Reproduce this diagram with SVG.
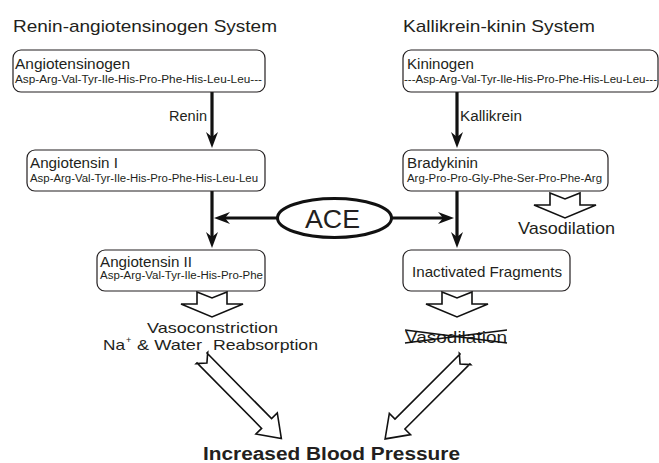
<svg xmlns="http://www.w3.org/2000/svg" width="659" height="463" viewBox="0 0 659 463">
<style>
text{font-family:"Liberation Sans",Arial,Helvetica,sans-serif;fill:#231f20}
.box{fill:#fff;stroke:#231f20;stroke-width:1.2}
.t{font-size:14px}
.s{font-size:10px}
.h{font-size:17px}
.big{font-size:17px}
.mid{font-size:15px}
.con{stroke:#111;stroke-width:3.2;fill:none}
.hol{fill:#fff;stroke:#111;stroke-width:1.6;stroke-linejoin:miter}
</style>
<defs>
<marker id="ah" viewBox="0 0 16 12" refX="8" refY="6" markerWidth="16" markerHeight="12" markerUnits="userSpaceOnUse" orient="auto">
<path d="M0,0 L16,6 L0,12 L5,6 z" fill="#111"/>
</marker>
<path id="down" d="M-15,0 L0,6 L15,0 L15,12 L31,12 L0,25 L-31,12 L-15,12 z"/>
<path id="diag" d="M0,-8 L7,0 L0,8 L0,7 L92,7 L92,15 L113,0 L92,-15 L92,-7 L0,-7 z"/>
</defs>

<text class="h" x="13" y="32" textLength="264" lengthAdjust="spacingAndGlyphs">Renin-angiotensinogen System</text>
<text class="h" x="403" y="32" textLength="192" lengthAdjust="spacingAndGlyphs">Kallikrein-kinin System</text>

<g id="connectors">
<line class="con" x1="212" y1="92" x2="212" y2="140" marker-end="url(#ah)"/>
<line class="con" x1="212" y1="191" x2="212" y2="240" marker-end="url(#ah)"/>
<line class="con" x1="457" y1="92" x2="457" y2="140" marker-end="url(#ah)"/>
<line class="con" x1="457" y1="191" x2="457" y2="240" marker-end="url(#ah)"/>
<line class="con" x1="278" y1="218" x2="222" y2="218" marker-end="url(#ah)"/>
<line class="con" x1="391" y1="218" x2="446" y2="218" marker-end="url(#ah)"/>
<text class="t" x="169" y="121" textLength="38" lengthAdjust="spacingAndGlyphs">Renin</text>
<text class="t" x="460" y="121" textLength="62" lengthAdjust="spacingAndGlyphs">Kallikrein</text>
<use href="#down" class="hol" x="212" y="292"/>
<use href="#down" class="hol" x="457" y="292"/>
<use href="#down" class="hol" x="565" y="193"/>
<use href="#diag" class="hol" transform="translate(202,358) rotate(45.4)"/>
<use href="#diag" class="hol" transform="translate(465,359) rotate(135)"/>
</g>

<g id="angiotensinogen">
<rect class="box" x="13" y="50" width="252" height="42" rx="8"/>
<text class="t" x="15" y="69" textLength="115" lengthAdjust="spacingAndGlyphs">Angiotensinogen</text>
<text class="s" x="15" y="82.5" textLength="247" lengthAdjust="spacingAndGlyphs">Asp-Arg-Val-Tyr-Ile-His-Pro-Phe-His-Leu-Leu---</text>
</g>

<g id="kininogen">
<rect class="box" x="403" y="50" width="255" height="42" rx="8"/>
<text class="t" x="407" y="69" textLength="67" lengthAdjust="spacingAndGlyphs">Kininogen</text>
<text class="s" x="404" y="82.5" textLength="253" lengthAdjust="spacingAndGlyphs">---Asp-Arg-Val-Tyr-Ile-His-Pro-Phe-His-Leu-Leu---</text>
</g>

<g id="angiotensin1">
<rect class="box" x="27" y="150" width="238" height="41" rx="8"/>
<text class="t" x="30" y="168" textLength="88" lengthAdjust="spacingAndGlyphs">Angiotensin I</text>
<text class="s" x="30" y="182" textLength="228" lengthAdjust="spacingAndGlyphs">Asp-Arg-Val-Tyr-Ile-His-Pro-Phe-His-Leu-Leu</text>
</g>

<g id="bradykinin">
<rect class="box" x="403" y="150" width="205" height="41" rx="8"/>
<text class="t" x="407" y="168" textLength="71" lengthAdjust="spacingAndGlyphs">Bradykinin</text>
<text class="s" x="407" y="182" textLength="195" lengthAdjust="spacingAndGlyphs">Arg-Pro-Pro-Gly-Phe-Ser-Pro-Phe-Arg</text>
</g>

<g id="ace">
<ellipse cx="334.5" cy="218" rx="57" ry="19.5" fill="#fff" stroke="#111" stroke-width="3"/>
<text x="305" y="228" style="font-size:25px" textLength="55" lengthAdjust="spacingAndGlyphs">ACE</text>
</g>

<g id="angiotensin2">
<rect class="box" x="97" y="250" width="168" height="41" rx="8"/>
<text class="t" x="100" y="267" textLength="92" lengthAdjust="spacingAndGlyphs">Angiotensin II</text>
<text class="s" x="100" y="279" textLength="163" lengthAdjust="spacingAndGlyphs">Asp-Arg-Val-Tyr-Ile-His-Pro-Phe</text>
</g>

<g id="fragments">
<rect class="box" x="403" y="250" width="167" height="41" rx="8"/>
<text x="412" y="277" style="font-size:15px" textLength="150" lengthAdjust="spacingAndGlyphs">Inactivated Fragments</text>
</g>

<g id="vasodilation1">
<text class="big" x="518" y="234" textLength="97" lengthAdjust="spacingAndGlyphs">Vasodilation</text>
</g>

<g id="vasoconstriction">
<text class="mid" x="147" y="333" textLength="131" lengthAdjust="spacingAndGlyphs">Vasoconstriction</text>
<text class="mid" x="103" y="350" textLength="22" lengthAdjust="spacingAndGlyphs">Na</text>
<text x="126" y="343" style="font-size:9px">+</text>
<text class="mid" x="137" y="350" textLength="65" lengthAdjust="spacingAndGlyphs">&amp; Water</text>
<text class="mid" x="213" y="350" textLength="105" lengthAdjust="spacingAndGlyphs">Reabsorption</text>
</g>

<g id="vasodilation2">
<text class="big" x="405" y="343" textLength="102" lengthAdjust="spacingAndGlyphs">Vasodilation</text>
<line x1="405" y1="330" x2="507" y2="343" stroke="#111" stroke-width="1.6"/>
<line x1="405" y1="343" x2="507" y2="330" stroke="#111" stroke-width="1.6"/>
</g>

<g id="bp">
<text x="203" y="460" style="font-size:18px;font-weight:bold" textLength="257" lengthAdjust="spacingAndGlyphs">Increased Blood Pressure</text>
</g>
</svg>
